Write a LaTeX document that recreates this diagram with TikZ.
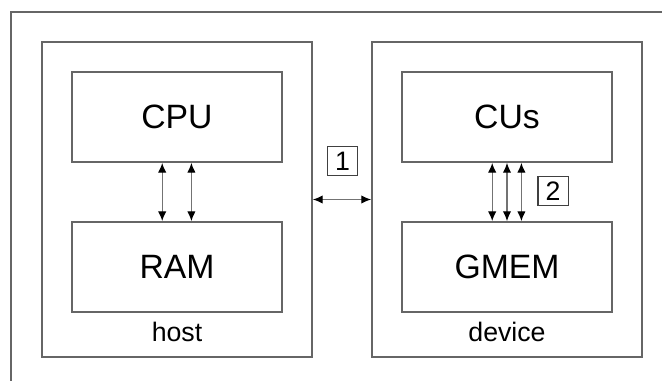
\documentclass[tikz,border=0pt]{standalone}
\usepackage{fontspec}
\setmainfont{Liberation Sans}
\usetikzlibrary{positioning,arrows.meta}

\tikzset{
  side/.style={draw=black!60, line width=1.2pt, minimum width=6.75cm, minimum height=7.875cm},
  unit/.style={draw=black!60, line width=1.2pt, minimum width=5.25cm, minimum height=2.25cm, font=\fontsize{24}{28}\selectfont},
  tag/.style={draw=black!75, line width=1pt, minimum width=0.76cm, minimum height=0.72cm, inner sep=0pt, font=\fontsize{19}{22}\selectfont},
  bus/.style={draw=black!55, line width=0.9pt, {Latex[color=black,length=7pt,width=6pt]}-{Latex[color=black,length=7pt,width=6pt]}}
}

\begin{document}
\begin{tikzpicture}

\clip (0,0) rectangle (16.55,9.5);

% outer frame, runs off the right and bottom
\draw[black!60, line width=1.2pt] (0.275,-1) -- (0.275,9.2) -- (17.5,9.2);

\node[side] (host) at (4.425,4.5125) {};
\node[side] (device) at (12.675,4.5125) {};

\node[unit] (cpu) at (4.425,6.575) {CPU};
\node[unit] (ram) at (4.425,2.825) {RAM};
\node[unit] (cus) at (12.675,6.575) {CUs};
\node[unit] (gmem) at (12.675,2.825) {GMEM};

\node[font=\fontsize{19}{22}\selectfont] (hostname) at (4.425,1.2) {host};
\node[font=\fontsize{19}{22}\selectfont] (devicename) at (12.675,1.2) {device};

% host side
\draw[bus] ([xshift=-0.37cm]cpu.south) -- ([xshift=-0.37cm]ram.north);
\draw[bus] ([xshift=0.36cm]cpu.south) -- ([xshift=0.36cm]ram.north);

% host <-> device
\draw[bus] (host.east) -- (device.west);
\node[tag] (tagone) at (8.5625,5.475) {1};

% device side
\draw[bus] ([xshift=-0.37cm]cus.south) -- ([xshift=-0.37cm]gmem.north);
\draw[bus] (cus.south) -- (gmem.north);
\draw[bus] ([xshift=0.36cm]cus.south) -- ([xshift=0.36cm]gmem.north);
\node[tag] (tagtwo) at (13.825,4.725) {2};

\end{tikzpicture}
\end{document}
